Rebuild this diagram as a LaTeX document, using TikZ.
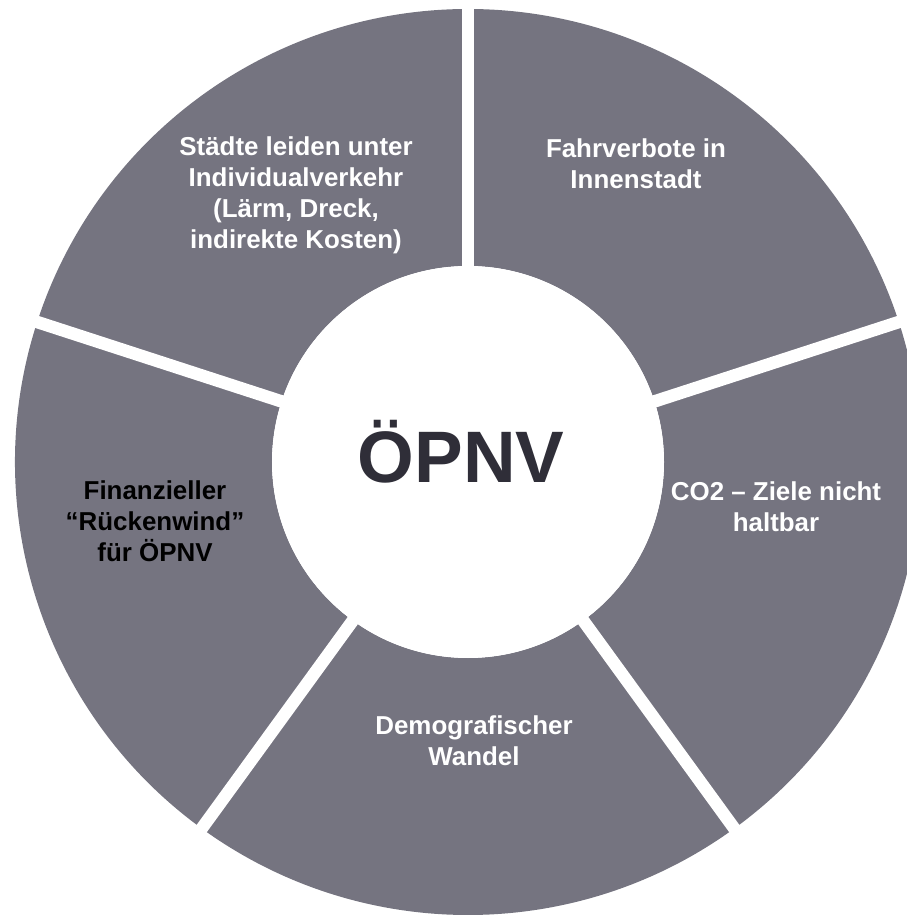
\documentclass[tikz,border=0pt]{standalone}
\usepackage{fontspec}
\setmainfont{Liberation Sans}
\usepackage{xcolor}
\usetikzlibrary{positioning}
\definecolor{ringgray}{HTML}{757480}
\definecolor{hubdark}{HTML}{2F2E38}

\begin{document}
\begin{tikzpicture}[
    x=0.02cm, y=0.02cm,
    seg/.style={fill=ringgray},
    gap/.style={draw=white,line width=0.25cm},
    lbl/.style={font=\bfseries\fontsize{14.75}{17.6}\selectfont,text=white,align=center,inner sep=0pt},
    hub/.style={font=\bfseries\fontsize{41.5}{48}\selectfont,text=hubdark,inner sep=0pt}
  ]
    \useasboundingbox (-468,-453) rectangle (438,462);

    % ring segments
    \foreach \a/\b in {90/162, 18/90, -54/18, -126/-54, 162/234}
      \fill[seg] (\a:196) -- (\a:453) arc[start angle=\a, end angle=\b, radius=453]
        -- (\b:196) arc[start angle=\b, end angle=\a, radius=196] -- cycle;
    \foreach \g in {90, 18, -54, -126, 162}
      \draw[gap] (0,0) -- (\g:475);
    \fill[white] (0,0) circle[radius=196];

    \node[hub] (hub) at (-7,10) {ÖPNV};

    \node[lbl] (staedte) at (-172,267) {Städte leiden unter\\Individualverkehr\\(Lärm, Dreck,\\indirekte Kosten)};
    \node[lbl] (fahrverbote) at (168,298) {Fahrverbote in\\Innenstadt};
    \node[lbl] (co2) at (308,-45) {CO2 – Ziele nicht\\haltbar};
    \node[lbl] (demografie) at (6,-279) {Demografischer\\Wandel};
    \node[lbl,text=black] (finanzen) at (-313,-59) {Finanzieller\\“Rückenwind”\\für ÖPNV};
  \end{tikzpicture}
\end{document}
